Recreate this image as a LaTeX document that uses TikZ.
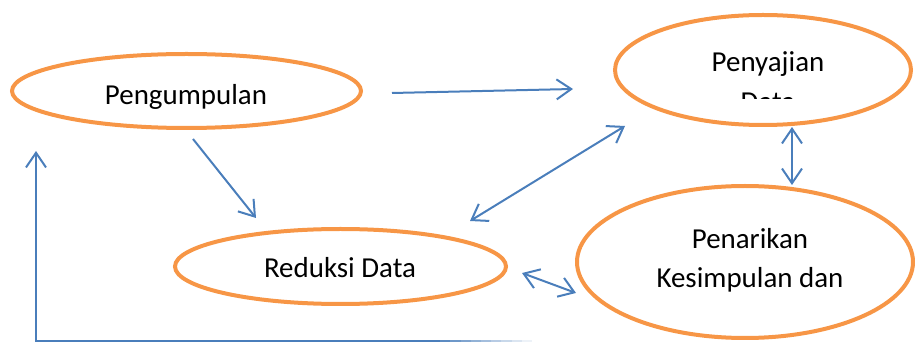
\documentclass[tikz,border=0pt]{standalone}
\usepackage{fontspec}
\setmainfont{Carlito}
\usetikzlibrary{shapes.geometric,arrows.meta,calc}
\definecolor{stageorange}{RGB}{247,150,70}
\definecolor{flowblue}{RGB}{74,126,187}
\begin{document}
\begin{tikzpicture}[x=0.75pt,y=0.75pt,yscale=-1,xscale=1,
  stage/.style={ellipse,draw=stageorange,line width=3pt,inner sep=0pt},
  lbl/.style={anchor=base,inner sep=0.75pt,font=\fontsize{21.7}{30}\selectfont},
  flow/.style={draw=flowblue,line width=1.5pt,-{Straight Barb[length=11pt,width=15pt]}},
  twoway/.style={flow,{Straight Barb[length=11pt,width=15pt]}-{Straight Barb[length=11pt,width=15pt]}}]
\useasboundingbox (0,0) rectangle (915,345);

%Shape: Ellipse [Pengumpulan]
\node [stage,minimum width=261.75pt,minimum height=55.5pt] (pengumpulan) at (186.5,91) {};
%Shape: Ellipse [Penyajian]
\node [stage,minimum width=222pt,minimum height=82.5pt] (penyajian) at (763,70) {};
%Shape: Ellipse [Reduksi]
\node [stage,minimum width=248.25pt,minimum height=56.25pt] (reduksi) at (340.5,266.5) {};
%Shape: Ellipse [Penarikan]
\node [stage,minimum width=252pt,minimum height=114pt] (penarikan) at (745,262) {};

% Text Node
\node [lbl] (tPengumpulan) at (186,105) {Pengumpulan};
% Text Node
\node [lbl] (tReduksi) at (340,278) {Reduksi Data};
% Text Node
\node [lbl] (tPenyajian) at (768,72) {Penyajian};
% Text Node (cut off below)
\begin{scope}
\clip (600,0) rectangle (915,99);
\node [lbl] (tData) at (768,112) {Data};
\end{scope}
% Text Node
\node [lbl] (tPenarikan) at (750,249) {Penarikan};
% Text Node
\node [lbl] (tKesimpulan) at (750,288) {Kesimpulan dan};

%Straight Lines
\draw [flow] ($(pengumpulan.east)+(29,2)$) -- ($(penyajian.west)+(-40,19)$);
\draw [flow] ($(pengumpulan.south)+(6.5,9)$) -- ($(reduksi.north)+(-84.5,-9)$);
\draw [twoway] ($(penyajian.south)+(-138,-1)$) -- ($(reduksi.north)+(129.5,-6)$);
\draw [twoway] ($(penyajian.south)+(29,0)$) -- ($(penarikan.north)+(47,1)$);
\draw [twoway] ($(reduksi.east)+(14,6.5)$) -- ($(penarikan.west)+(1,31)$);

%Feedback line, fading out to the right
\coordinate (fbStart) at (430,341);
\draw [flow] (fbStart) -| ($(pengumpulan.west)+(26,60)$);
\foreach \i in {0,...,9}
  \draw [flowblue,line width=1.5pt,draw opacity=1-\i/10] (430+10.2*\i,341) -- (440.2+10.2*\i,341);
\end{tikzpicture}
\end{document}
